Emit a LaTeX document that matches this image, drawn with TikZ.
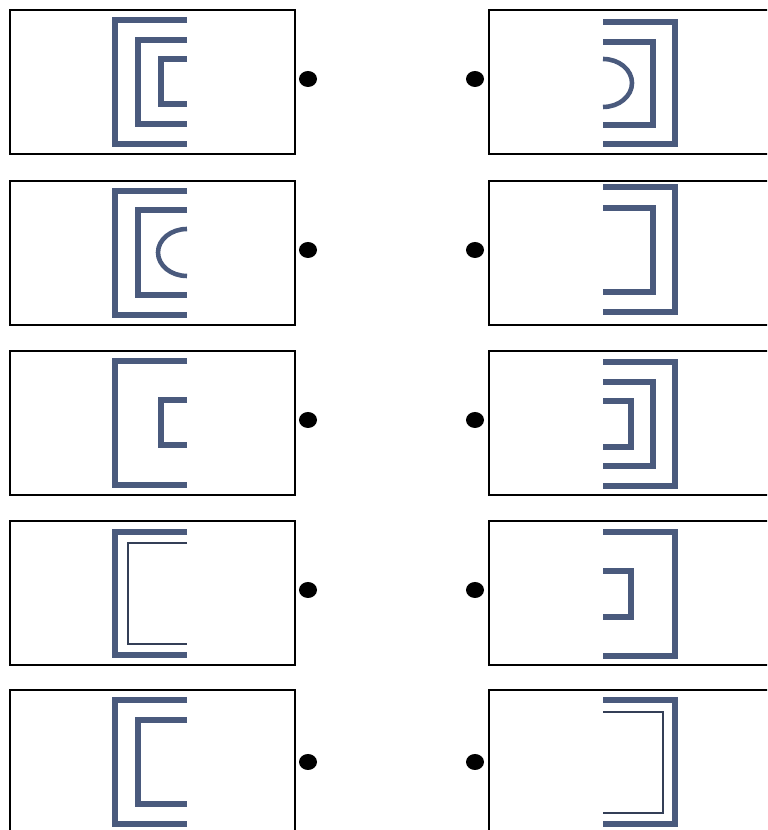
\documentclass[tikz,border=0pt]{standalone}
\usepackage{xcolor}
\usepackage{tikz}
\usetikzlibrary{calc}
\definecolor{slate}{RGB}{74,90,125}

\begin{document}
\begin{tikzpicture}[x=0.02cm, y=0.02cm,
    frame/.style={line width=1.4pt, black},
    bar/.style={line width=3.2pt, slate},
    curvebar/.style={line width=2.6pt, slate},
    thinbar/.style={line width=0.6pt, slate!70!black},
    blob/.style={fill=black}]
        \useasboundingbox (0,0) rectangle (767,830);
        \clip (0,0) rectangle (767,830);

        % Row 1
        \begin{scope}[shift={(0,820)}]
         \draw[frame] (10,0) rectangle (295,-144);
         \draw[frame] (489,0) rectangle (790,-144);
         \fill[blob] (308,-69) circle [x radius=0.18cm, y radius=0.16cm];
         \fill[blob] (475,-69) circle [x radius=0.18cm, y radius=0.16cm];

         \draw[bar] (187,-10) -- (115,-10) -- (115,-134) -- (187,-134);
         \draw[bar] (187,-30) -- (138,-30) -- (138,-114) -- (187,-114);
         \draw[bar] (187,-49) -- (161,-49) -- (161,-94) -- (187,-94);

         \draw[bar] (603,-12) -- (675,-12) -- (675,-134) -- (603,-134);
         \draw[bar] (603,-32) -- (653,-32) -- (653,-115) -- (603,-115);
         \draw[curvebar] (603,-49) arc [start angle=90, end angle=-90, x radius=29, y radius=24];
        \end{scope}

        % Row 2
        \begin{scope}[shift={(0,649)}]
         \draw[frame] (10,0) rectangle (295,-144);
         \draw[frame] (489,0) rectangle (790,-144);
         \fill[blob] (308,-69) circle [x radius=0.18cm, y radius=0.16cm];
         \fill[blob] (475,-69) circle [x radius=0.18cm, y radius=0.16cm];

         \draw[bar] (187,-10) -- (115,-10) -- (115,-134) -- (187,-134);
         \draw[bar] (187,-29) -- (138,-29) -- (138,-114) -- (187,-114);
         \draw[curvebar] (187,-48) arc [start angle=90, end angle=270, x radius=29, y radius=23.5];

         \draw[bar] (603,-6) -- (675,-6) -- (675,-131) -- (603,-131);
         \draw[bar] (603,-27) -- (653,-27) -- (653,-111) -- (603,-111);
        \end{scope}

        % Row 3
        \begin{scope}[shift={(0,479)}]
         \draw[frame] (10,0) rectangle (295,-144);
         \draw[frame] (489,0) rectangle (790,-144);
         \fill[blob] (308,-69) circle [x radius=0.18cm, y radius=0.16cm];
         \fill[blob] (475,-69) circle [x radius=0.18cm, y radius=0.16cm];

         \draw[bar] (187,-10) -- (115,-10) -- (115,-134) -- (187,-134);
         \draw[bar] (187,-49) -- (161,-49) -- (161,-94) -- (187,-94);

         \draw[bar] (603,-11) -- (675,-11) -- (675,-135) -- (603,-135);
         \draw[bar] (603,-31) -- (653,-31) -- (653,-115) -- (603,-115);
         \draw[bar] (603,-50) -- (631,-50) -- (631,-96) -- (603,-96);
        \end{scope}

        % Row 4
        \begin{scope}[shift={(0,309)}]
         \draw[frame] (10,0) rectangle (295,-144);
         \draw[frame] (489,0) rectangle (790,-144);
         \fill[blob] (308,-69) circle [x radius=0.18cm, y radius=0.16cm];
         \fill[blob] (475,-69) circle [x radius=0.18cm, y radius=0.16cm];

         \draw[bar] (187,-11) -- (115,-11) -- (115,-134) -- (187,-134);
         \draw[thinbar] (187,-22) -- (128,-22) -- (128,-123) -- (187,-123);

         \draw[bar] (603,-11) -- (675,-11) -- (675,-135) -- (603,-135);
         \draw[bar] (603,-50) -- (631,-50) -- (631,-96) -- (603,-96);
        \end{scope}

        % Row 5
        \begin{scope}[shift={(0,140)}]
         \draw[frame] (10,0) rectangle (295,-144);
         \draw[frame] (489,0) rectangle (790,-144);
         \fill[blob] (308,-72) circle [x radius=0.18cm, y radius=0.16cm];
         \fill[blob] (475,-72) circle [x radius=0.18cm, y radius=0.16cm];

         \draw[bar] (187,-10) -- (115,-10) -- (115,-134) -- (187,-134);
         \draw[bar] (187,-30) -- (138,-30) -- (138,-114) -- (187,-114);

         \draw[bar] (603,-10) -- (675,-10) -- (675,-134) -- (603,-134);
         \draw[thinbar] (603,-22) -- (663,-22) -- (663,-123) -- (603,-123);
        \end{scope}
    \end{tikzpicture}
\end{document}
